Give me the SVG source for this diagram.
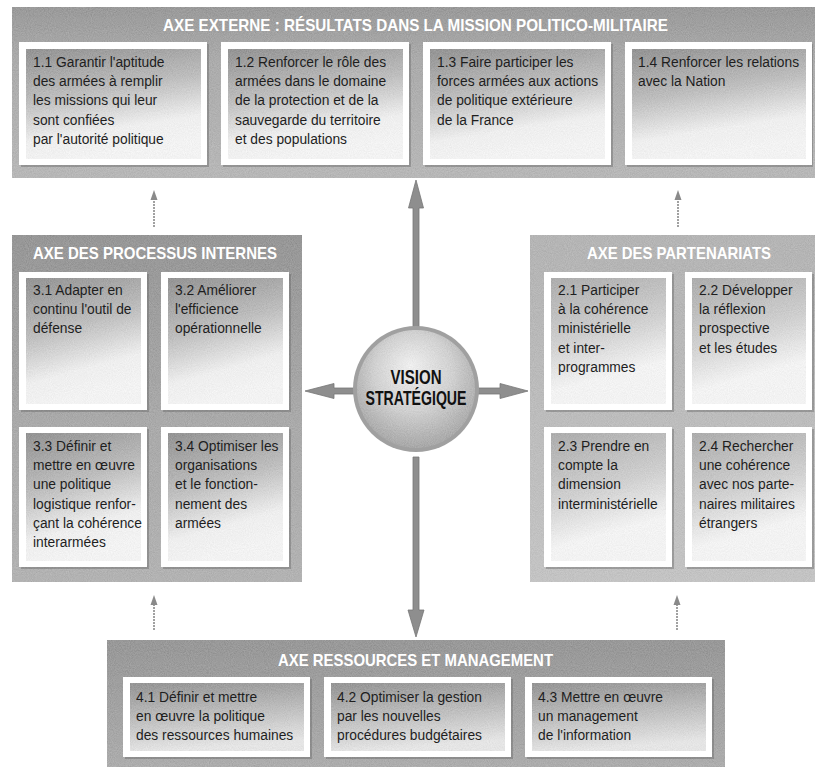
<svg xmlns="http://www.w3.org/2000/svg" width="816" height="769" viewBox="0 0 816 769">
<style>
.bt{font-family:"Liberation Sans",Arial,sans-serif;font-size:13.8px;fill:#1e1e1e}
.hd{font-family:"Liberation Sans",Arial,sans-serif;font-size:17px;font-weight:bold;fill:#fff}
.vs{font-family:"Liberation Sans",Arial,sans-serif;font-size:19.5px;font-weight:bold;fill:#111}
.frame{fill:#fff}
.shadow{fill:#6a6a6a;opacity:0.45}
.gr{filter:url(#grain)}
.big{fill:#8e8e8e;stroke:#767676;stroke-width:0.8}
.thin{stroke:#8a8a8a;stroke-width:1.6;stroke-dasharray:2 1;fill:none}
.thinhead{fill:#8a8a8a}
</style>
<defs>
<filter id="grain" x="0" y="0" width="100%" height="100%">
<feTurbulence type="fractalNoise" baseFrequency="0.95" numOctaves="2" seed="4" result="n"/>
<feColorMatrix in="n" type="matrix" values="0.5 0.5 0 0 0  0.5 0.5 0 0 0  0.5 0.5 0 0 0  0 0 0 0 0.22" result="gn"/>
<feComposite in="gn" in2="SourceGraphic" operator="in" result="g"/>
<feMerge><feMergeNode in="SourceGraphic"/><feMergeNode in="g"/></feMerge>
</filter>
<linearGradient id="gTop" x1="0" y1="0" x2="0" y2="1"><stop offset="0" stop-color="#8f8f8f"/><stop offset="0.3" stop-color="#a6a6a6"/><stop offset="1" stop-color="#b6b6b6"/></linearGradient>
<linearGradient id="gLeft" x1="0" y1="0" x2="0" y2="1"><stop offset="0" stop-color="#8a8a8a"/><stop offset="0.5" stop-color="#a3a3a3"/><stop offset="1" stop-color="#b0b0b0"/></linearGradient>
<linearGradient id="gRight" x1="0" y1="0" x2="0" y2="1"><stop offset="0" stop-color="#b2b2b2"/><stop offset="1" stop-color="#c6c6c6"/></linearGradient>
<linearGradient id="gBot" x1="0" y1="0" x2="0" y2="1"><stop offset="0" stop-color="#8c8c8c"/><stop offset="1" stop-color="#a8a8a8"/></linearGradient>
<linearGradient id="gBox" x1="0" y1="0" x2="0.25" y2="1"><stop offset="0" stop-color="#868686"/><stop offset="0.45" stop-color="#bebebe"/><stop offset="0.8" stop-color="#fafafa"/><stop offset="1" stop-color="#fff"/></linearGradient>
<linearGradient id="gBoxL" x1="0" y1="0" x2="0.25" y2="1"><stop offset="0" stop-color="#a8a8a8"/><stop offset="0.5" stop-color="#d4d4d4"/><stop offset="0.85" stop-color="#fff"/><stop offset="1" stop-color="#fff"/></linearGradient>
<linearGradient id="gBoxB" x1="0" y1="0" x2="0.2" y2="1"><stop offset="0" stop-color="#878787"/><stop offset="0.6" stop-color="#c6c6c6"/><stop offset="1" stop-color="#efefef"/></linearGradient>
<radialGradient id="gCirc" cx="0.5" cy="0.4" r="0.6" fx="0.45" fy="0.3"><stop offset="0" stop-color="#fbfbfb"/><stop offset="0.55" stop-color="#d6d6d6"/><stop offset="1" stop-color="#a2a2a2"/></radialGradient>
</defs>

<!-- Top panel -->
<g id="axe-externe">
<rect class="gr" x="12" y="7" width="803" height="171" fill="url(#gTop)"/>
<text class="hd" x="415.5" y="31" text-anchor="middle" textLength="505" lengthAdjust="spacingAndGlyphs">AXE EXTERNE : RÉSULTATS DANS LA MISSION POLITICO-MILITAIRE</text>
</g>
<g id="box-1-1">
<rect class="shadow" x="21" y="44" width="188" height="123"/>
<rect class="frame" x="19" y="42" width="188" height="123"/>
<rect class="gr" x="26" y="49" width="175" height="110" fill="url(#gBox)"/>
<text class="bt"><tspan x="33" y="67">1.1 Garantir l'aptitude</tspan><tspan x="33" y="86.2">des armées à remplir</tspan><tspan x="33" y="105.4">les missions qui leur</tspan><tspan x="33" y="124.6">sont confiées</tspan><tspan x="33" y="143.8">par l'autorité politique</tspan></text>
</g>
<g id="box-1-2">
<rect class="shadow" x="223" y="44" width="188" height="123"/>
<rect class="frame" x="221" y="42" width="188" height="123"/>
<rect class="gr" x="228" y="49" width="175" height="110" fill="url(#gBox)"/>
<text class="bt"><tspan x="235" y="67">1.2 Renforcer le rôle des</tspan><tspan x="235" y="86.2">armées dans le domaine</tspan><tspan x="235" y="105.4">de la protection et de la</tspan><tspan x="235" y="124.6">sauvegarde du territoire</tspan><tspan x="235" y="143.8">et des populations</tspan></text>
</g>
<g id="box-1-3">
<rect class="shadow" x="425" y="44" width="188" height="123"/>
<rect class="frame" x="423" y="42" width="188" height="123"/>
<rect class="gr" x="430" y="49" width="175" height="110" fill="url(#gBox)"/>
<text class="bt"><tspan x="437" y="67">1.3 Faire participer les</tspan><tspan x="437" y="86.2">forces armées aux actions</tspan><tspan x="437" y="105.4">de politique extérieure</tspan><tspan x="437" y="124.6">de la France</tspan></text>
</g>
<g id="box-1-4">
<rect class="shadow" x="627" y="44" width="186" height="123"/>
<rect class="frame" x="625" y="42" width="187" height="123"/>
<rect class="gr" x="632" y="49" width="174" height="110" fill="url(#gBox)"/>
<text class="bt"><tspan x="638" y="67">1.4 Renforcer les relations</tspan><tspan x="638" y="86.2">avec la Nation</tspan></text>
</g>

<!-- Left panel -->
<g id="axe-processus-internes">
<rect class="gr" x="12" y="235" width="290" height="347" fill="url(#gLeft)"/>
<text class="hd" x="155" y="259" text-anchor="middle" textLength="244" lengthAdjust="spacingAndGlyphs">AXE DES PROCESSUS INTERNES</text>
</g>
<g id="box-3-1">
<rect class="shadow" x="21" y="274" width="128" height="138"/>
<rect class="frame" x="19" y="272" width="128" height="138"/>
<rect class="gr" x="26" y="278" width="115" height="126" fill="url(#gBox)"/>
<text class="bt"><tspan x="33" y="295">3.1 Adapter en</tspan><tspan x="33" y="314.2">continu l'outil de</tspan><tspan x="33" y="333.4">défense</tspan></text>
</g>
<g id="box-3-2">
<rect class="shadow" x="163" y="274" width="128" height="138"/>
<rect class="frame" x="161" y="272" width="128" height="138"/>
<rect class="gr" x="168" y="278" width="115" height="126" fill="url(#gBox)"/>
<text class="bt"><tspan x="175" y="295">3.2 Améliorer</tspan><tspan x="175" y="314.2">l'efficience</tspan><tspan x="175" y="333.4">opérationnelle</tspan></text>
</g>
<g id="box-3-3">
<rect class="shadow" x="21" y="429" width="128" height="140"/>
<rect class="frame" x="19" y="427" width="128" height="140"/>
<rect class="gr" x="26" y="433" width="115" height="128" fill="url(#gBox)"/>
<text class="bt"><tspan x="33" y="451">3.3 Définir et</tspan><tspan x="33" y="470.2">mettre en œuvre</tspan><tspan x="33" y="489.4">une politique</tspan><tspan x="33" y="508.6">logistique renfor-</tspan><tspan x="33" y="527.8">çant la cohérence</tspan><tspan x="33" y="547">interarmées</tspan></text>
</g>
<g id="box-3-4">
<rect class="shadow" x="163" y="429" width="128" height="140"/>
<rect class="frame" x="161" y="427" width="128" height="140"/>
<rect class="gr" x="168" y="433" width="115" height="128" fill="url(#gBox)"/>
<text class="bt"><tspan x="175" y="451">3.4 Optimiser les</tspan><tspan x="175" y="470.2">organisations</tspan><tspan x="175" y="489.4">et le fonction-</tspan><tspan x="175" y="508.6">nement des</tspan><tspan x="175" y="527.8">armées</tspan></text>
</g>

<!-- Right panel -->
<g id="axe-partenariats">
<rect class="gr" x="530" y="235" width="285" height="347" fill="url(#gRight)"/>
<text class="hd" x="679" y="259" text-anchor="middle" textLength="184" lengthAdjust="spacingAndGlyphs">AXE DES PARTENARIATS</text>
</g>
<g id="box-2-1">
<rect class="shadow" x="546" y="274" width="128" height="138"/>
<rect class="frame" x="544" y="272" width="128" height="138"/>
<rect class="gr" x="551" y="278" width="115" height="126" fill="url(#gBoxL)"/>
<text class="bt"><tspan x="558" y="295">2.1 Participer</tspan><tspan x="558" y="314.2">à la cohérence</tspan><tspan x="558" y="333.4">ministérielle</tspan><tspan x="558" y="352.6">et inter-</tspan><tspan x="558" y="371.8">programmes</tspan></text>
</g>
<g id="box-2-2">
<rect class="shadow" x="687" y="274" width="127" height="138"/>
<rect class="frame" x="685" y="272" width="127" height="138"/>
<rect class="gr" x="692" y="278" width="114" height="126" fill="url(#gBoxL)"/>
<text class="bt"><tspan x="699" y="295">2.2 Développer</tspan><tspan x="699" y="314.2">la réflexion</tspan><tspan x="699" y="333.4">prospective</tspan><tspan x="699" y="352.6">et les études</tspan></text>
</g>
<g id="box-2-3">
<rect class="shadow" x="546" y="429" width="128" height="140"/>
<rect class="frame" x="544" y="427" width="128" height="140"/>
<rect class="gr" x="551" y="433" width="115" height="128" fill="url(#gBoxL)"/>
<text class="bt"><tspan x="558" y="451">2.3 Prendre en</tspan><tspan x="558" y="470.2">compte la</tspan><tspan x="558" y="489.4">dimension</tspan><tspan x="558" y="508.6">interministérielle</tspan></text>
</g>
<g id="box-2-4">
<rect class="shadow" x="687" y="429" width="127" height="140"/>
<rect class="frame" x="685" y="427" width="127" height="140"/>
<rect class="gr" x="692" y="433" width="114" height="128" fill="url(#gBoxL)"/>
<text class="bt"><tspan x="699" y="451">2.4 Rechercher</tspan><tspan x="699" y="470.2">une cohérence</tspan><tspan x="699" y="489.4">avec nos parte-</tspan><tspan x="699" y="508.6">naires militaires</tspan><tspan x="699" y="527.8">étrangers</tspan></text>
</g>

<!-- Bottom panel -->
<g id="axe-ressources">
<rect class="gr" x="107" y="640" width="618" height="127" fill="url(#gBot)"/>
<text class="hd" x="415.5" y="666" text-anchor="middle" textLength="275" lengthAdjust="spacingAndGlyphs">AXE RESSOURCES ET MANAGEMENT</text>
</g>
<g id="box-4-1">
<rect class="shadow" x="125" y="679" width="187" height="80"/>
<rect class="frame" x="123" y="677" width="187" height="80"/>
<rect class="gr" x="130" y="683" width="174" height="68" fill="url(#gBoxB)"/>
<text class="bt"><tspan x="136" y="702">4.1 Définir et mettre</tspan><tspan x="136" y="721.2">en œuvre la politique</tspan><tspan x="136" y="740.4">des ressources humaines</tspan></text>
</g>
<g id="box-4-2">
<rect class="shadow" x="326" y="679" width="187" height="80"/>
<rect class="frame" x="324" y="677" width="187" height="80"/>
<rect class="gr" x="331" y="683" width="174" height="68" fill="url(#gBoxB)"/>
<text class="bt"><tspan x="337" y="702">4.2 Optimiser la gestion</tspan><tspan x="337" y="721.2">par les nouvelles</tspan><tspan x="337" y="740.4">procédures budgétaires</tspan></text>
</g>
<g id="box-4-3">
<rect class="shadow" x="527" y="679" width="187" height="80"/>
<rect class="frame" x="525" y="677" width="187" height="80"/>
<rect class="gr" x="532" y="683" width="174" height="68" fill="url(#gBoxB)"/>
<text class="bt"><tspan x="538" y="702">4.3 Mettre en œuvre</tspan><tspan x="538" y="721.2">un management</tspan><tspan x="538" y="740.4">de l'information</tspan></text>
</g>

<!-- Connectors -->
<g id="connectors">
<polygon class="big" points="413,330 413,208 408.5,208 416,180 423.5,208 419,208 419,330"/>
<polygon class="big" points="413,457 413,610 408,610 416,637 424,610 419,610 419,457"/>
<polygon class="big" points="355,388 334,388 334,383.5 305,391 334,398.5 334,394 355,394"/>
<polygon class="big" points="477,388 500,388 500,383.5 528,391 500,398.5 500,394 477,394"/>
<line class="thin" x1="154" y1="227" x2="154" y2="197"/>
<polygon class="thinhead" points="154,190 150.5,200 157.5,200"/>
<line class="thin" x1="678" y1="227" x2="678" y2="197"/>
<polygon class="thinhead" points="678,190 674.5,200 681.5,200"/>
<line class="thin" x1="154" y1="630" x2="154" y2="602"/>
<polygon class="thinhead" points="154,595 150.5,605 157.5,605"/>
<line class="thin" x1="677" y1="630" x2="677" y2="602"/>
<polygon class="thinhead" points="677,595 673.5,605 680.5,605"/>
</g>

<!-- Center -->
<g id="vision-strategique">
<circle cx="416" cy="389" r="63" fill="#a0a0a0"/>
<circle class="gr" cx="416" cy="389" r="59" fill="url(#gCirc)"/>
<text class="vs" x="416" y="384" text-anchor="middle" textLength="51" lengthAdjust="spacingAndGlyphs">VISION</text>
<text class="vs" x="416" y="405" text-anchor="middle" textLength="101" lengthAdjust="spacingAndGlyphs">STRATÉGIQUE</text>
</g>
</svg>
